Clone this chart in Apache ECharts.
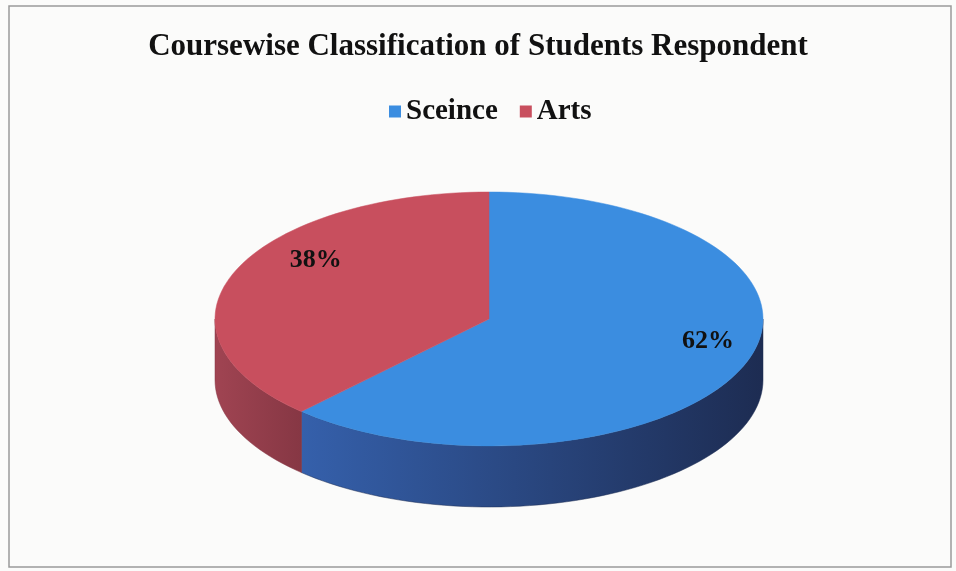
<!DOCTYPE html>
<html lang="en">
<head>
    <meta charset="UTF-8">
    <title>Coursewise Classification</title>
    <script src="https://cdn.jsdelivr.net/npm/echarts@6/dist/echarts.min.js"></script>
    <style>
        body { margin: 0; background: #fbfbfa; }
    </style>
</head>
<body>
<div id="main" style="width: 956px;height: 571px;"></div>
<script type="text/javascript">
    // data
    var categories = ['Sceince', 'Arts'];
    var values = [62, 38];
    var labels = ['62%', '38%'];

    var myChart = echarts.init(document.getElementById('main'));

    // geometry of the tilted pie
    var cx = 489, cy = 319, rx = 274, ry = 127, depth = 61;
    var topColors = ['#3b8de0', '#c84f5e'];
    var sideColors = [['#3560ab', '#1d2c52'], ['#a04452', '#863744']];
    var labelFrac = [0.86, 0.68];
    var labelDy = [-18, -27];

    var total = values.reduce(function (a, b) { return a + b; }, 0);
    // start/end angles (degrees, math orientation, going clockwise from 12 o'clock)
    var angles = [];
    var acc = 90;
    for (var i = 0; i < values.length; i++) {
        var sweep = values[i] / total * 360;
        angles.push([acc - sweep, acc]);
        acc -= sweep;
    }

    function pt(deg, dz) {
        var r = deg * Math.PI / 180;
        return [cx + rx * Math.cos(r), cy - ry * Math.sin(r) + (dz || 0)];
    }

    function arc(a0, a1, dz) {
        var pts = [];
        var n = Math.max(2, Math.ceil(Math.abs(a1 - a0) / 2));
        for (var k = 0; k <= n; k++) {
            pts.push(pt(a0 + (a1 - a0) * k / n, dz));
        }
        return pts;
    }

    function renderSlice(idx) {
        var a = angles[idx];
        var children = [];
        // front side walls (lower half of the ellipse)
        var fronts = [[-540, -360], [-180, 0], [180, 360]];
        fronts.forEach(function (f) {
            var s = Math.max(a[0], f[0]), e = Math.min(a[1], f[1]);
            if (e > s) {
                var top = arc(s, e, 0);
                var bottom = arc(e, s, depth);
                children.push({
                    type: 'polygon',
                    shape: { points: top.concat(bottom) },
                    style: {
                        fill: {
                            type: 'linear', x: 0, y: 0, x2: 1, y2: 0,
                            colorStops: [
                                { offset: 0, color: sideColors[idx][0] },
                                { offset: 1, color: sideColors[idx][1] }
                            ]
                        },
                        stroke: sideColors[idx][1],
                        lineWidth: 0.5
                    },
                    z2: 1
                });
            }
        });
        // top face
        children.push({
            type: 'polygon',
            shape: { points: [[cx, cy]].concat(arc(a[0], a[1], 0)) },
            style: { fill: topColors[idx], stroke: topColors[idx], lineWidth: 0.5 },
            z2: 2
        });
        // label
        var mid = (a[0] + a[1]) / 2 * Math.PI / 180;
        children.push({
            type: 'text',
            x: cx + rx * labelFrac[idx] * Math.cos(mid),
            y: cy - ry * labelFrac[idx] * Math.sin(mid) + labelDy[idx],
            style: {
                text: labels[idx],
                fill: '#111',
                font: 'bold 26px "Liberation Serif", "Times New Roman", serif',
                align: 'center',
                verticalAlign: 'middle'
            },
            z2: 3
        });
        return { type: 'group', children: children };
    }

    var series = categories.map(function (name, idx) {
        return {
            name: name,
            type: 'custom',
            coordinateSystem: 'none',
            itemStyle: { color: topColors[idx] },
            data: [values[idx]],
            renderItem: function () {
                return renderSlice(idx);
            }
        };
    });

    myChart.setOption({
        backgroundColor: '#fbfbfa',
        animation: false,
        title: {
            text: 'Coursewise Classification of Students Respondent',
            left: 'center',
            top: 26,
            textStyle: {
                fontFamily: '"Liberation Serif", "Times New Roman", serif',
                fontWeight: 'bold',
                fontSize: 31,
                color: '#111'
            }
        },
        legend: {
            data: categories,
            top: 92,
            left: 384,
            icon: 'rect',
            itemWidth: 12,
            itemHeight: 12,
            itemGap: 22,
            textStyle: {
                fontFamily: '"Liberation Serif", "Times New Roman", serif',
                fontWeight: 'bold',
                fontSize: 29,
                color: '#111'
            }
        },
        graphic: [{
            type: 'rect',
            shape: { x: 9, y: 6, width: 942, height: 561 },
            style: { fill: 'none', stroke: '#9a9a9a', lineWidth: 1.5 },
            silent: true
        }],
        series: series
    });
</script>
</body>
</html>
